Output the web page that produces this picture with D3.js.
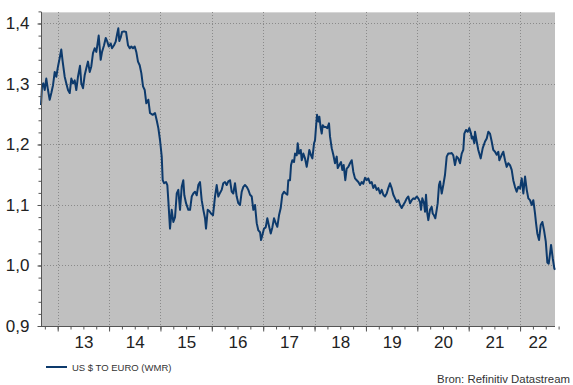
<!DOCTYPE html>
<html>
<head>
<meta charset="utf-8">
<script src="https://cdn.jsdelivr.net/npm/d3@7"></script>
<style>
  body { margin: 0; background: #fff; }
  svg { display: block; font-family: "Liberation Sans", Arial, sans-serif; }
  .domain { stroke: #555; }
</style>
</head>
<body>
<div id="chart"></div>
<script>
// weekly-ish readings, decimal years
const dates = [
  2012.675, 2012.694, 2012.720, 2012.747, 2012.778, 2012.811, 2012.844, 2012.876, 2012.909, 2012.942, 2012.973,
  2013.006, 2013.039, 2013.070, 2013.097, 2013.136, 2013.168, 2013.201, 2013.234, 2013.265, 2013.298, 2013.331,
  2013.362, 2013.395, 2013.434, 2013.460, 2013.493, 2013.526, 2013.557, 2013.590, 2013.623, 2013.654, 2013.687,
  2013.720, 2013.752, 2013.771, 2013.798, 2013.837, 2013.863, 2013.902, 2013.935, 2013.966, 2013.994,
  2014.032, 2014.057, 2014.096, 2014.129, 2014.160, 2014.180, 2014.199, 2014.227, 2014.252, 2014.291, 2014.330,
  2014.369, 2014.402, 2014.433, 2014.466, 2014.499, 2014.530, 2014.563, 2014.596, 2014.628, 2014.661, 2014.694,
  2014.725, 2014.764, 2014.797, 2014.849, 2014.894, 2014.927, 2014.959, 2014.992,
  2015.025, 2015.044, 2015.070, 2015.108, 2015.134, 2015.153, 2015.186, 2015.219, 2015.251, 2015.284, 2015.317,
  2015.348, 2015.381, 2015.414, 2015.445, 2015.465, 2015.498, 2015.543, 2015.576, 2015.609, 2015.640, 2015.673,
  2015.706, 2015.737, 2015.770, 2015.803, 2015.835, 2015.868, 2015.887, 2015.920, 2015.951, 2015.984,
  2016.023, 2016.062, 2016.095, 2016.126, 2016.159, 2016.192, 2016.223, 2016.256, 2016.289, 2016.321, 2016.354,
  2016.387, 2016.418, 2016.451, 2016.484, 2016.516, 2016.549, 2016.582, 2016.613, 2016.646, 2016.679, 2016.711,
  2016.744, 2016.777, 2016.808, 2016.841, 2016.874, 2016.906, 2016.939, 2016.958, 2016.983,
  2017.016, 2017.049, 2017.080, 2017.114, 2017.147, 2017.178, 2017.211, 2017.244, 2017.275, 2017.308, 2017.341,
  2017.372, 2017.405, 2017.438, 2017.470, 2017.489, 2017.522, 2017.542, 2017.567, 2017.600, 2017.620, 2017.653,
  2017.672, 2017.697, 2017.731, 2017.750, 2017.781, 2017.814, 2017.847, 2017.879, 2017.898, 2017.931, 2017.957,
  2017.990,
  2018.009, 2018.028, 2018.048, 2018.073, 2018.093, 2018.120, 2018.139, 2018.159, 2018.184, 2018.217, 2018.248,
  2018.281, 2018.301, 2018.334, 2018.365, 2018.398, 2018.431, 2018.451, 2018.482, 2018.515, 2018.540, 2018.567,
  2018.598, 2018.625, 2018.657, 2018.690, 2018.723, 2018.754, 2018.787, 2018.820, 2018.852, 2018.885, 2018.918,
  2018.949, 2018.982,
  2019.015, 2019.046, 2019.079, 2019.112, 2019.143, 2019.176, 2019.209, 2019.240, 2019.274, 2019.307, 2019.338,
  2019.371, 2019.404, 2019.435, 2019.468, 2019.501, 2019.533, 2019.566, 2019.599, 2019.630, 2019.663, 2019.696,
  2019.727, 2019.761, 2019.794, 2019.825, 2019.858, 2019.891, 2019.922, 2019.955, 2019.988,
  2020.019, 2020.053, 2020.072, 2020.097, 2020.130, 2020.150, 2020.169, 2020.194, 2020.214, 2020.247, 2020.280,
  2020.299, 2020.324, 2020.350, 2020.377, 2020.397, 2020.422, 2020.442, 2020.475, 2020.506, 2020.539, 2020.572,
  2020.603, 2020.636, 2020.669, 2020.700, 2020.733, 2020.766, 2020.798, 2020.831, 2020.864, 2020.895, 2020.915,
  2020.948, 2020.981,
  2021.012, 2021.045, 2021.059, 2021.078, 2021.110, 2021.123, 2021.156, 2021.187, 2021.234, 2021.273, 2021.318,
  2021.351, 2021.382, 2021.415, 2021.448, 2021.479, 2021.512, 2021.545, 2021.577, 2021.596, 2021.643, 2021.674,
  2021.707, 2021.740, 2021.771, 2021.804, 2021.837, 2021.868, 2021.901, 2021.934, 2021.966, 2021.999,
  2022.032, 2022.064, 2022.097, 2022.130, 2022.161, 2022.194, 2022.227, 2022.258, 2022.291, 2022.311, 2022.336,
  2022.369, 2022.402, 2022.434, 2022.467, 2022.500, 2022.531, 2022.558, 2022.584, 2022.603, 2022.636, 2022.667,
  2022.680
];

const usdEuro = [
  1.265, 1.296, 1.301, 1.290, 1.309, 1.290, 1.274, 1.285, 1.298, 1.320, 1.312,
  1.329, 1.343, 1.357, 1.337, 1.312, 1.301, 1.290, 1.285, 1.309, 1.301, 1.306,
  1.290, 1.312, 1.330, 1.301, 1.293, 1.315, 1.326, 1.337, 1.320, 1.329, 1.351,
  1.359, 1.353, 1.364, 1.380, 1.340, 1.353, 1.364, 1.376, 1.370, 1.362,
  1.367, 1.359, 1.364, 1.370, 1.384, 1.392, 1.371, 1.377, 1.386, 1.387, 1.386,
  1.364, 1.359, 1.362, 1.359, 1.362, 1.353, 1.337, 1.331, 1.318, 1.296, 1.290,
  1.268, 1.274, 1.252, 1.249, 1.252, 1.240, 1.227, 1.207,
  1.180, 1.141, 1.136, 1.138, 1.133, 1.108, 1.061, 1.092, 1.072, 1.080, 1.119,
  1.125, 1.092, 1.130, 1.141, 1.116, 1.103, 1.092, 1.092, 1.114, 1.119, 1.122,
  1.116, 1.133, 1.138, 1.108, 1.092, 1.078, 1.061, 1.092, 1.090, 1.086,
  1.083, 1.114, 1.133, 1.114, 1.120, 1.125, 1.136, 1.138, 1.133, 1.139, 1.141,
  1.122, 1.119, 1.136, 1.114, 1.103, 1.100, 1.122, 1.130, 1.133, 1.130, 1.125,
  1.117, 1.114, 1.092, 1.100, 1.070, 1.058, 1.055, 1.042, 1.050,
  1.061, 1.063, 1.078, 1.065, 1.053, 1.063, 1.078, 1.070, 1.064, 1.083, 1.095,
  1.117, 1.122, 1.119, 1.117, 1.141, 1.141, 1.166, 1.174, 1.171, 1.185, 1.182,
  1.202, 1.185, 1.191, 1.174, 1.185, 1.177, 1.163, 1.180, 1.191, 1.182, 1.177,
  1.202,
  1.207, 1.229, 1.249, 1.238, 1.246, 1.227, 1.218, 1.232, 1.229, 1.229, 1.227,
  1.235, 1.213, 1.194, 1.183, 1.169, 1.180, 1.161, 1.166, 1.171, 1.158, 1.166,
  1.141, 1.160, 1.163, 1.169, 1.174, 1.155, 1.144, 1.141, 1.138, 1.133, 1.138,
  1.135, 1.145,
  1.141, 1.144, 1.136, 1.138, 1.128, 1.133, 1.125, 1.128, 1.119, 1.125, 1.117,
  1.114, 1.119, 1.128, 1.136, 1.128, 1.117, 1.111, 1.105, 1.108, 1.100, 1.095,
  1.100, 1.105, 1.111, 1.114, 1.103, 1.108, 1.111, 1.110, 1.114,
  1.111, 1.105, 1.092, 1.111, 1.103, 1.089, 1.117, 1.086, 1.075, 1.092, 1.097,
  1.086, 1.083, 1.078, 1.092, 1.103, 1.133, 1.139, 1.119, 1.133, 1.150, 1.180,
  1.185, 1.185, 1.186, 1.182, 1.166, 1.180, 1.177, 1.169, 1.185, 1.191, 1.218,
  1.224, 1.221,
  1.227, 1.218, 1.210, 1.213, 1.202, 1.221, 1.205, 1.191, 1.177, 1.194, 1.205,
  1.210, 1.221, 1.218, 1.205, 1.191, 1.188, 1.183, 1.188, 1.174, 1.183, 1.188,
  1.174, 1.163, 1.169, 1.166, 1.158, 1.141, 1.130, 1.122, 1.130, 1.127,
  1.144, 1.119, 1.147, 1.125, 1.111, 1.108, 1.100, 1.108, 1.086, 1.070, 1.053,
  1.042, 1.067, 1.072, 1.058, 1.040, 1.005, 1.003, 1.020, 1.034, 1.012, 0.995,
  0.993
];

const yMajor = [0.9, 1.0, 1.1, 1.2, 1.3, 1.4];
const yearStarts = [2013, 2014, 2015, 2016, 2017, 2018, 2019, 2020, 2021, 2022];
const yearLabels = ["13", "14", "15", "16", "17", "18", "19", "20", "21", "22"];
const seriesName = "US $ TO EURO (WMR)";
const sourceText = "Bron: Refinitiv Datastream";

const width = 573;
const height = 385;
const plot = { left: 41, right: 555, top: 12, bottom: 326 };
const lineColor = "#0d3a6c";

const svg = d3
  .select("#chart")
  .append("svg")
  .attr("width", width)
  .attr("height", height);

const x = d3.scaleLinear().domain(d3.extent(dates)).range([plot.left, plot.right]);
const y = d3.scaleLinear().domain([0.9, 1.419]).range([plot.bottom, plot.top]);

// grey plot area
svg
  .append("rect")
  .attr("x", plot.left)
  .attr("y", plot.top)
  .attr("width", plot.right - plot.left)
  .attr("height", plot.bottom - plot.top)
  .attr("fill", "#c0c0c0");

svg
  .append("line")
  .attr("x1", plot.left)
  .attr("x2", plot.right)
  .attr("y1", plot.top + 0.5)
  .attr("y2", plot.top + 0.5)
  .attr("stroke", "#d6d6d6");

// dotted grid
svg
  .append("g")
  .selectAll("line")
  .data(yMajor.slice(1))
  .join("line")
  .attr("x1", plot.left)
  .attr("x2", plot.right)
  .attr("y1", (d) => Math.round(y(d)) + 0.5)
  .attr("y2", (d) => Math.round(y(d)) + 0.5)
  .attr("stroke", "#8a8a8a")
  .attr("stroke-dasharray", "1,2");

svg
  .append("g")
  .selectAll("line")
  .data(yearStarts)
  .join("line")
  .attr("x1", (d) => Math.round(x(d)) + 0.5)
  .attr("x2", (d) => Math.round(x(d)) + 0.5)
  .attr("y1", plot.top)
  .attr("y2", plot.bottom)
  .attr("stroke", "#8a8a8a")
  .attr("stroke-dasharray", "1,2");

// the line
const line = d3
  .line()
  .x((d, i) => x(dates[i]))
  .y((d) => y(d));

svg
  .append("path")
  .datum(usdEuro)
  .attr("fill", "none")
  .attr("stroke", lineColor)
  .attr("stroke-width", 2)
  .attr("stroke-linejoin", "round")
  .attr("d", line);

// left axis: minor ticks every 0.02, labels on majors
const yMinor = d3.range(0.9, 1.4201, 0.02);
svg
  .append("g")
  .attr("transform", `translate(${plot.left + 0.5},0)`)
  .call(d3.axisLeft(y).tickValues(yMinor).tickSize(3).tickFormat(""))
  .call((g) => g.selectAll(".tick line").attr("stroke", "#555"))
  .call((g) => g.select(".domain").attr("d", `M0,${plot.top}V${plot.bottom}`));

svg
  .append("g")
  .attr("transform", `translate(${plot.left + 0.5},0)`)
  .call(
    d3
      .axisLeft(y)
      .tickValues(yMajor)
      .tickSize(4)
      .tickPadding(8)
      .tickFormat((d) => d3.format(".1f")(d).replace(".", ","))
  )
  .call((g) => g.select(".domain").remove())
  .call((g) => g.selectAll(".tick line").attr("stroke", "#555"))
  .call((g) =>
    g
      .selectAll(".tick text")
      .attr("font-size", 17)
      .attr("fill", "#222")
      .attr("font-family", null)
  );

// bottom axis: quarterly minor ticks, year majors
const quarters = d3.range(2012.75, 2022.76, 0.25);
svg
  .append("g")
  .attr("transform", `translate(0,${plot.bottom + 0.5})`)
  .call(d3.axisBottom(x).tickValues(quarters).tickSize(3).tickFormat(""))
  .call((g) => g.selectAll(".tick line").attr("stroke", "#555"))
  .call((g) => g.select(".domain").attr("d", `M${plot.left},0H${plot.right}`));

svg
  .append("g")
  .attr("transform", `translate(0,${plot.bottom + 0.5})`)
  .call(d3.axisBottom(x).tickValues(yearStarts).tickSize(5).tickFormat(""))
  .call((g) => g.select(".domain").remove())
  .call((g) => g.selectAll(".tick line").attr("stroke", "#555"));

// year labels centred on the visible part of each year
const [d0, d1] = x.domain();
const labelPos = yearStarts.map((yr) => (Math.max(yr, d0) + Math.min(yr + 1, d1)) / 2);

svg
  .append("g")
  .attr("transform", `translate(0,${plot.bottom})`)
  .call(
    d3
      .axisBottom(x)
      .tickValues(labelPos)
      .tickSize(0)
      .tickPadding(10)
      .tickFormat((d, i) => yearLabels[i])
  )
  .call((g) => g.select(".domain").remove())
  .call((g) =>
    g
      .selectAll(".tick text")
      .attr("font-size", 17)
      .attr("fill", "#222")
      .attr("font-family", null)
  );

// legend
svg
  .append("line")
  .attr("x1", 46)
  .attr("x2", 67)
  .attr("y1", 367)
  .attr("y2", 367)
  .attr("stroke", lineColor)
  .attr("stroke-width", 2);

svg
  .append("text")
  .attr("x", 72)
  .attr("y", 370.5)
  .attr("font-size", 9.5)
  .attr("fill", "#333")
  .text(seriesName);

svg
  .append("text")
  .attr("x", 570)
  .attr("y", 383)
  .attr("text-anchor", "end")
  .attr("font-size", 11.4)
  .attr("fill", "#333")
  .text(sourceText);
</script>
</body>
</html>
